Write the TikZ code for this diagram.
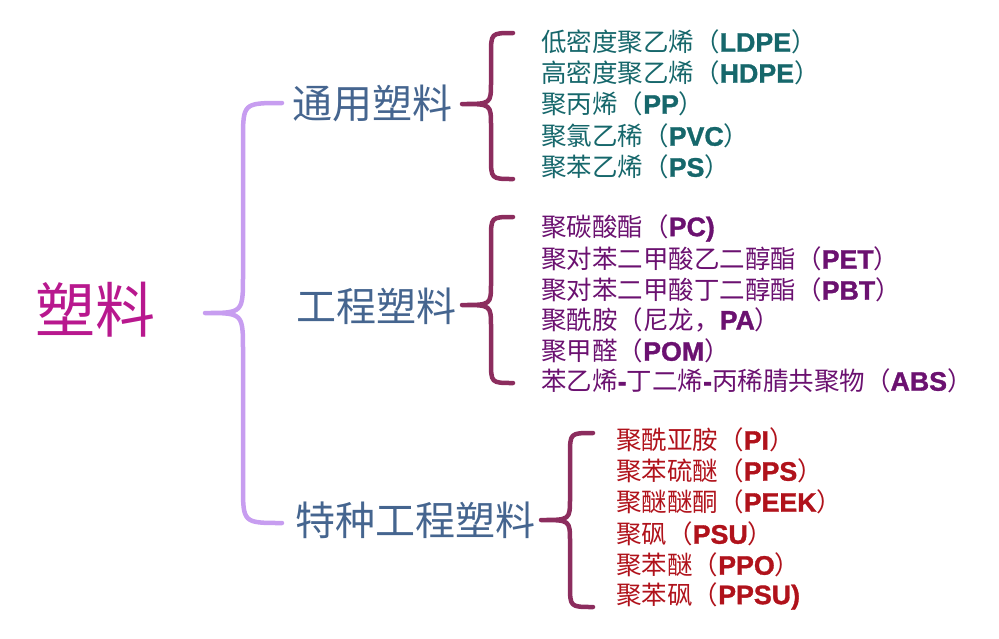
\documentclass[tikz,border=0pt]{standalone}
\usepackage{fontspec}
\setmainfont{Noto Sans CJK SC}
\newfontfamily\latinbold[Scale=1.05,FakeBold=1.2]{Liberation Sans}
\usetikzlibrary{calc}
\definecolor{rootcol}{RGB}{184,24,142}
\definecolor{catcol}{RGB}{69,101,143}
\definecolor{bigbrace}{RGB}{199,157,240}
\definecolor{subbrace}{RGB}{140,45,94}
\definecolor{tealtxt}{RGB}{22,103,107}
\definecolor{purptxt}{RGB}{107,17,112}
\definecolor{redtxt}{RGB}{176,18,27}
\newcommand{\ab}[1]{{\latinbold\bfseries #1}}
% curly brace: x ends, x stem, x tip, y top, y tip, y bottom, radius
\newcommand{\curly}[7]{%
  (#1,#4) .. controls (#2,#4) .. (#2,{#4+#7}) -- (#2,{#5-#7})
  .. controls (#2,#5) .. (#3,#5) .. controls (#2,#5) .. (#2,{#5+#7})
  -- (#2,{#6-#7}) .. controls (#2,#6) .. (#1,#6)}

\begin{document}
\begin{tikzpicture}[x=1pt,y=-1pt,
  rootnode/.style={inner sep=0pt,text=rootcol,font=\fontsize{60}{64}\selectfont},
  catnode/.style={inner sep=0pt,anchor=west,text=catcol,font=\fontsize{40}{44}\selectfont},
  itemnode/.style={inner sep=0pt,anchor=west,font=\fontsize{25.5}{29}\selectfont},
  bracepath/.style={line width=4.5pt,line cap=round,line join=round}]
  \useasboundingbox (0,0) rectangle (999,638);

  \node[rootnode] (root) at (95,310) {塑料};
  \node[catnode] (gen) at (292,103) {通用塑料};
  \node[catnode] (eng) at (296,306) {工程塑料};
  \node[catnode] (spe) at (295,520) {特种工程塑料};

  \draw[bracepath,bigbrace] \curly{282}{243}{205}{103}{313}{523}{38};
  \draw[bracepath,subbrace] \curly{513}{491}{462}{33}{104}{179}{22};
  \draw[bracepath,subbrace] \curly{513}{491}{462}{217}{305}{383}{22};
  \draw[bracepath,subbrace] \curly{593}{570}{541}{433}{520}{607}{22};

  % general purpose
  \node[itemnode,text=tealtxt] (g1) at (541,42)  {低密度聚乙烯（\ab{LDPE}）};
  \node[itemnode,text=tealtxt] (g2) at (541,73)  {高密度聚乙烯（\ab{HDPE}）};
  \node[itemnode,text=tealtxt] (g3) at (541,104) {聚丙烯（\ab{PP}）};
  \node[itemnode,text=tealtxt] (g4) at (541,136) {聚氯乙稀（\ab{PVC}）};
  \node[itemnode,text=tealtxt] (g5) at (541,167) {聚苯乙烯（\ab{PS}）};

  % engineering
  \node[itemnode,text=purptxt] (e1) at (541,228) {聚碳酸酯（\ab{PC)}};
  \node[itemnode,text=purptxt] (e2) at (541,259) {聚对苯二甲酸乙二醇酯（\ab{PET}）};
  \node[itemnode,text=purptxt] (e3) at (541,290) {聚对苯二甲酸丁二醇酯（\ab{PBT}）};
  \node[itemnode,text=purptxt] (e4) at (541,320) {聚酰胺（尼龙，\ab{PA}）};
  \node[itemnode,text=purptxt] (e5) at (541,351) {聚甲醛（\ab{POM}）};
  \node[itemnode,text=purptxt] (e6) at (541,381) {苯乙烯\ab{-}丁二烯\ab{-}丙稀腈共聚物（\ab{ABS}）};

  % special engineering
  \node[itemnode,text=redtxt] (s1) at (616,440) {聚酰亚胺（\ab{PI}）};
  \node[itemnode,text=redtxt] (s2) at (616,471) {聚苯硫醚（\ab{PPS}）};
  \node[itemnode,text=redtxt] (s3) at (616,502) {聚醚醚酮（\ab{PEEK}）};
  \node[itemnode,text=redtxt] (s4) at (616,534) {聚砜（\ab{PSU}）};
  \node[itemnode,text=redtxt] (s5) at (616,565) {聚苯醚（\ab{PPO}）};
  \node[itemnode,text=redtxt] (s6) at (616,596) {聚苯砜（\ab{PPSU)}};
\end{tikzpicture}
\end{document}
